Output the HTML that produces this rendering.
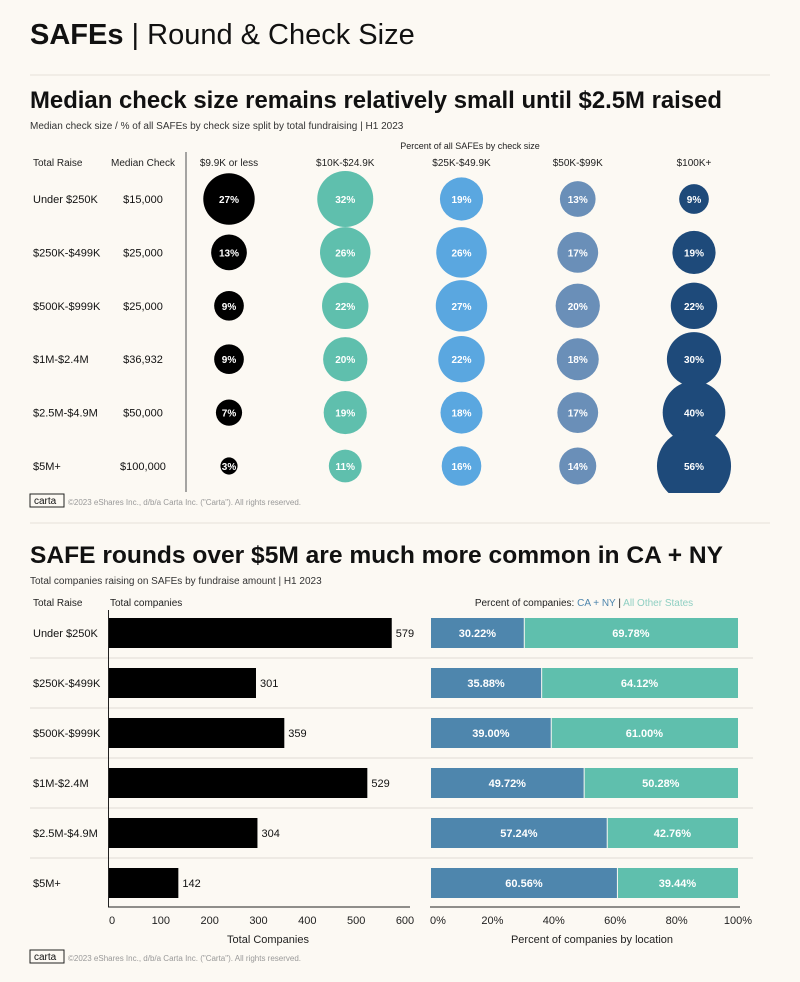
<!DOCTYPE html>
<html><head><meta charset="utf-8"><style>
body{margin:0;background:#fcf9f3;font-family:"Liberation Sans",sans-serif;}
svg text{font-family:"Liberation Sans",sans-serif;}
</style></head><body>
<svg id="c" width="800" height="977" viewBox="0 0 800 977" xmlns="http://www.w3.org/2000/svg">
<defs><clipPath id="bclip"><rect x="0" y="130" width="800" height="363"/></clipPath></defs>
<rect width="800" height="977" fill="#fcf9f3"/>
<text x="30" y="44" font-size="29" fill="#111"><tspan font-weight="bold">SAFEs</tspan> | Round &amp; Check Size</text>
<line x1="30" y1="75" x2="770" y2="75" stroke="#e6e1d8"/>
<text x="30" y="108" font-size="24" font-weight="bold" fill="#111" textLength="692" lengthAdjust="spacingAndGlyphs">Median check size remains relatively small until $2.5M raised</text>
<text x="30" y="129" font-size="10" fill="#333">Median check size / % of all SAFEs by check size split by total fundraising  |  H1 2023</text>
<text x="470" y="149" font-size="9" fill="#222" text-anchor="middle">Percent of all SAFEs by check size</text>
<text x="33" y="166" font-size="10" fill="#222">Total Raise</text>
<text x="143" y="166" font-size="10" fill="#222" text-anchor="middle">Median Check</text>
<line x1="186" y1="152" x2="186" y2="492" stroke="#888" stroke-width="1.5"/>
<g id="bubbles" clip-path="url(#bclip)"></g>
<rect x="30" y="494" width="34" height="13" fill="none" stroke="#222"/>
<text x="34" y="504" font-size="10" fill="#111">carta</text>
<text x="68" y="505" font-size="8" fill="#999">©2023 eShares Inc., d/b/a Carta Inc. ("Carta"). All rights reserved.</text>
<line x1="30" y1="523" x2="770" y2="523" stroke="#e6e1d8"/>
<text x="30" y="563" font-size="24" font-weight="bold" fill="#111" textLength="693" lengthAdjust="spacingAndGlyphs">SAFE rounds over $5M are much more common in CA + NY</text>
<text x="30" y="584" font-size="10" fill="#333">Total companies raising on SAFEs by fundraise amount  |  H1 2023</text>
<text x="33" y="606" font-size="10" fill="#222">Total Raise</text>
<text x="110" y="606" font-size="10" fill="#222">Total companies</text>
<text x="584" y="606" font-size="10" fill="#222" text-anchor="middle">Percent of companies: <tspan fill="#4e86ad">CA + NY</tspan> | <tspan fill="#8fcfc2">All Other States</tspan></text>
<g id="bars"></g>
<text x="268" y="943" font-size="11" fill="#222" text-anchor="middle">Total Companies</text>
<text x="592" y="943" font-size="11" fill="#222" text-anchor="middle">Percent of companies by location</text>
<rect x="30" y="950" width="34" height="13" fill="none" stroke="#222"/>
<text x="34" y="960" font-size="10" fill="#111">carta</text>
<text x="68" y="961" font-size="8" fill="#999">©2023 eShares Inc., d/b/a Carta Inc. ("Carta"). All rights reserved.</text>
</svg>
<script>
const raises=["Under $250K","$250K-$499K","$500K-$999K","$1M-$2.4M","$2.5M-$4.9M","$5M+"];
const medianChecks=["$15,000","$25,000","$25,000","$36,932","$50,000","$100,000"];
const checkBuckets=["$9.9K or less","$10K-$24.9K","$25K-$49.9K","$50K-$99K","$100K+"];
const pct9k=[27,13,9,9,7,3];
const pct10k=[32,26,22,20,19,11];
const pct25k=[19,26,27,22,18,16];
const pct50k=[13,17,20,18,17,14];
const pct100k=[9,19,22,30,40,56];
const companies=[579,301,359,529,304,142];
const caNy=[30.22,35.88,39.00,49.72,57.24,60.56];
const other=[69.78,64.12,61.00,50.28,42.76,39.44];
const countTicks=[0,100,200,300,400,500,600];
const pctTicks=[0,20,40,60,80,100];

const NS="http://www.w3.org/2000/svg";
function mk(tag,attrs,parent,txt){const e=document.createElementNS(NS,tag);for(const k in attrs)e.setAttribute(k,attrs[k]);if(txt!==undefined)e.textContent=txt;parent.appendChild(e);return e;}
const colX=i=>229+i*116.25;
const rowY=i=>199+i*53.4;
const rad=p=>4.95*Math.sqrt(p);
const series=[pct9k,pct10k,pct25k,pct50k,pct100k];
const cols=["#000","#5fbfad","#5aa7e0","#6a8fb8","#1e4a7a"];
const gB=document.getElementById('bubbles');
checkBuckets.forEach((b,j)=>{
  const t=mk('text',{x:colX(j),y:166,'font-size':10,fill:'#222','text-anchor':'middle'},gB,b);
  
  
});
raises.forEach((r,i)=>{
  const y=rowY(i);
  const t1=mk('text',{x:33,y:y+4,'font-size':11,fill:'#111'},gB,r);
  
  
  const t2=mk('text',{x:143,y:y+4,'font-size':11,fill:'#111','text-anchor':'middle'},gB,medianChecks[i]);
  
  
  series.forEach((s,j)=>{
    const c=mk('circle',{cx:colX(j),cy:y,r:rad(s[i]),fill:cols[j]},gB);
    
    
    const l=mk('text',{x:colX(j),y:y+4,'font-size':10,'font-weight':'bold',fill:'#fff','text-anchor':'middle'},gB,s[i]+'%');
    
    
  });
});
const gR=document.getElementById('bars');
const xC=v=>109+v*(402-109)/600;
const xP=v=>431+v*(738-431)/100;
const bY=i=>633+i*50;
for(let i=0;i<raises.length-1;i++){
  const ln=mk('line',{x1:30,x2:753,y1:bY(i)+25,y2:bY(i)+25,stroke:'#e0dcd4'},gR);
  
  
}
raises.forEach((r,i)=>{
  const y=bY(i);
  const t=mk('text',{x:33,y:y+4,'font-size':11,fill:'#111'},gR,r);
  
  
  const b=mk('rect',{x:xC(0),y:y-15,width:xC(companies[i])-xC(0),height:30,fill:'#000'},gR);
  
  
  const v=mk('text',{x:xC(companies[i])+4,y:y+4,'font-size':11,fill:'#111'},gR,companies[i]);
  
  
  const a=mk('rect',{x:xP(0),y:y-15,width:xP(caNy[i])-xP(0),height:30,fill:'#4e86ad'},gR);
  
  
  const o=mk('rect',{x:xP(caNy[i])+1,y:y-15,width:xP(caNy[i]+other[i])-xP(caNy[i])-1,height:30,fill:'#5fbfad'},gR);
  
  
  const la=mk('text',{x:(xP(0)+xP(caNy[i]))/2,y:y+4,'font-size':11,'font-weight':'bold',fill:'#fff','text-anchor':'middle'},gR,caNy[i].toFixed(2)+'%');
  
  
  const lo=mk('text',{x:(xP(caNy[i])+xP(caNy[i]+other[i]))/2,y:y+4,'font-size':11,'font-weight':'bold',fill:'#fff','text-anchor':'middle'},gR,other[i].toFixed(2)+'%');
  
  
});
const ay=mk('line',{x1:108.5,x2:108.5,y1:610,y2:907,stroke:'#222'},gR);


const ax1=mk('line',{x1:108,x2:410,y1:907,y2:907,stroke:'#222'},gR);


const ax2=mk('line',{x1:430,x2:740,y1:907,y2:907,stroke:'#222'},gR);


countTicks.forEach(v=>{
  const t=mk('text',{x:xC(v)+3,y:924,'font-size':11,fill:'#222','text-anchor':'middle'},gR,v);
  
  
});
pctTicks.forEach(v=>{
  const t=mk('text',{x:xP(v)+(v===0?7:0),y:924,'font-size':11,fill:'#222','text-anchor':'middle'},gR,v+'%');
  
  
});
</script>
</body></html>
